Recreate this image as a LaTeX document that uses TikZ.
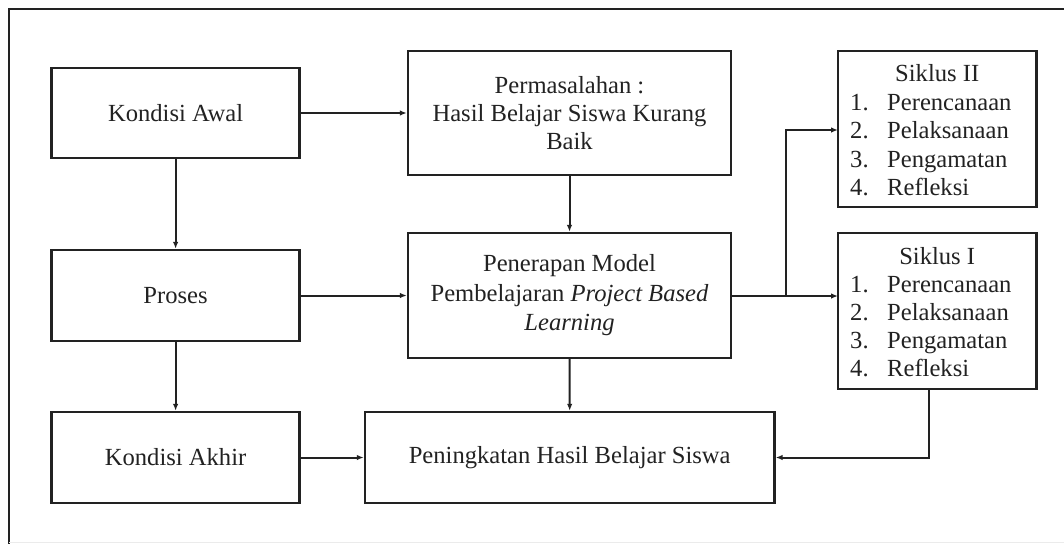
\documentclass[tikz,border=0pt]{standalone}
\usepackage{fontspec}
\setmainfont{Liberation Serif}
\usetikzlibrary{arrows.meta}
\definecolor{ink}{HTML}{222222}
\definecolor{txt}{HTML}{222222}
\begin{document}
\begin{tikzpicture}[x=1pt,y=-1pt,
  box/.style={draw=ink, line width=2.4pt, inner sep=0pt, align=center, text=txt,
    font=\fontsize{24.6}{28}\selectfont},
  lbl/.style={inner sep=0pt, anchor=base, text=txt, font=\fontsize{24.6}{28}\selectfont},
  item/.style={inner sep=0pt, anchor=base west, text=txt, font=\fontsize{24.6}{28}\selectfont},
  arr/.style={draw=ink, line width=2pt, -{Latex[length=7pt,width=5.5pt]}},
  frame/.style={draw=ink, line width=2pt}]
\useasboundingbox (0,0) rectangle (1064,544);
\fill[white] (0,0) rectangle (1064,544);
% frame (cropped)
\coordinate (ftl) at (9,9.3);
\coordinate (ftr) at (1064,9.3);
\coordinate (fbl) at (9,544);
\draw[frame] (ftr) -- (ftl) -- (fbl);
\coordinate (bl) at (9,542.5);
\coordinate (br) at (1064,542.5);
\draw[draw=black!8, line width=1pt] (bl) -- (br);

% boxes
\node[box, minimum width=248pt, minimum height=90pt] (ka) at (175.6,113) {Kondisi Awal};
\node[box, minimum width=323pt, minimum height=124pt] (perm) at (569.5,113)
  {Permasalahan :\\Hasil Belajar Siswa Kurang\\Baik};
\node[box, minimum width=198.5pt, minimum height=156pt] (s2) at (937.2,129) {};
\node[box, minimum width=198.5pt, minimum height=156pt] (s1) at (937.2,311) {};
\node[box, minimum width=323pt, minimum height=125pt, font=\fontsize{24.6}{29.5}\selectfont] (pen) at (569.5,295.5)
  {Penerapan Model\\Pembelajaran \textit{Project Based}\\\textit{Learning}};
\node[box, minimum width=248pt, minimum height=91pt] (pro) at (175.6,295.5) {Proses};
\node[box, minimum width=248pt, minimum height=91pt] (kak) at (175.6,457.5) {Kondisi Akhir};
\node[box, minimum width=409.5pt, minimum height=91pt] (ping) at (569.7,457.5) {Peningkatan Hasil Belajar Siswa};

% Siklus II text
\node[lbl] (s2t) at (937.2,81) {Siklus II};
\node[item] (s2a) at (850,110) {\makebox[37pt][l]{1.}Perencanaan};
\node[item] (s2b) at (850,138.5) {\makebox[37pt][l]{2.}Pelaksanaan};
\node[item] (s2c) at (850,167) {\makebox[37pt][l]{3.}Pengamatan};
\node[item] (s2d) at (850,195) {\makebox[37pt][l]{4.}Refleksi};
% Siklus I text
\node[lbl] (s1t) at (937.2,264) {Siklus I};
\node[item] (s1a) at (850,292) {\makebox[37pt][l]{1.}Perencanaan};
\node[item] (s1b) at (850,320) {\makebox[37pt][l]{2.}Pelaksanaan};
\node[item] (s1c) at (850,348) {\makebox[37pt][l]{3.}Pengamatan};
\node[item] (s1d) at (850,376) {\makebox[37pt][l]{4.}Refleksi};

% connectors
\draw[arr] (ka.east) -- (perm.west);
\draw[arr] (ka.south) -- (pro.north);
\draw[arr] (perm.south) -- (pen.north);
\draw[arr] (pro.east) -- (pen.west);
\draw[arr] (pro.south) -- (kak.north);
\draw[arr] (pen.south) -- (ping.north);
\draw[arr] (kak.east) -- (ping.west);
\coordinate (pr) at (731,296);
\coordinate (branch) at (785.7,296);
\coordinate (s2in) at (838,130);
\coordinate (s1in) at (838,296);
\draw[arr] (pr) -- (s1in);
\draw[arr] (branch) |- (s2in);
\coordinate (s1out) at (929,389);
\draw[arr] (s1out) |- (ping.east);
\end{tikzpicture}
\end{document}
